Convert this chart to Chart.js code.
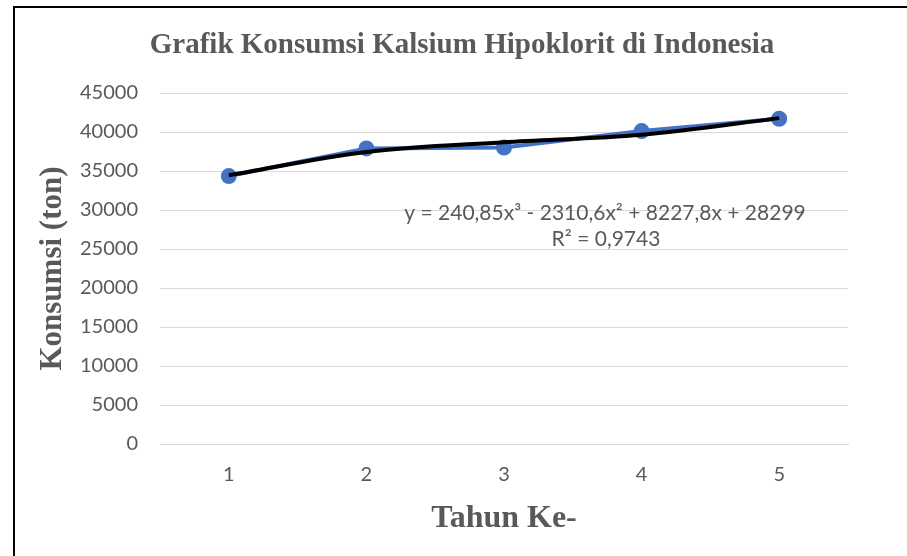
<!DOCTYPE html>
<html>
<head>
<meta charset="utf-8">
<script src="https://cdn.jsdelivr.net/npm/chart.js@4"></script>
<style>
  html, body { margin: 0; padding: 0; background: #fff; overflow: hidden; }
  #wrap { position: relative; width: 907px; height: 556px; }
  #frame { position: absolute; left: 13px; top: 6px; width: 1000px; height: 700px;
           border: 2px solid #000; pointer-events: none; }
</style>
</head>
<body>
<div id="wrap">
  <canvas id="grafik" width="907" height="556"></canvas>
  <div id="frame"></div>
</div>
<script>
// data
var tahun = ["1", "2", "3", "4", "5"];
var konsumsi = [34350, 37900, 38000, 40120, 41700];
var trendline = [34457, 37439, 38690, 39655, 41779];
var yTicks = [0, 45000, 5000]; // min, max, step

var judul = "Grafik Konsumsi Kalsium Hipoklorit di Indonesia";
var persamaan = "y = 240,85x\u00B3 - 2310,6x\u00B2 + 8227,8x + 28299";
var rKuadrat = "R\u00B2 = 0,9743";

var abu = "#595959";

// judul dan persamaan trendline ditulis manual
var teksPlugin = {
    id: "teks",
    afterDraw: function(chart){
        var ctx = chart.ctx;
        ctx.save();
        ctx.fillStyle = abu;
        ctx.textAlign = "center";
        ctx.textBaseline = "middle";
        ctx.font = "bold 29px 'Liberation Serif'";
        ctx.fillText(judul, 462, 46);
        ctx.font = "21px Lato";
        ctx.fillText(persamaan, 605, 213);
        ctx.fillText(rKuadrat, 606, 239);
        ctx.restore();
    }
};

var ctx = document.getElementById("grafik");
var chart = new Chart(ctx, {
    type: "line",
    data: {
        labels: tahun,
        datasets: [{
            label: "Trendline",
            data: trendline,
            borderColor: "#000000",
            borderWidth: 4,
            pointRadius: 0,
            fill: false,
            cubicInterpolationMode: "monotone",
            order: 0
        }, {
            label: "Konsumsi",
            data: konsumsi,
            borderColor: "#4472C4",
            backgroundColor: "#4472C4",
            borderWidth: 4,
            pointRadius: 7,
            pointBorderWidth: 2,
            fill: false,
            tension: 0,
            order: 1
        }]
    },
    options: {
        responsive: false,
        animation: false,
        layout: { padding: { left: 0, right: 59, top: 93, bottom: 0 } },
        plugins: {
            legend: { display: false },
            tooltip: { enabled: false },
            title: { display: false }
        },
        scales: {
            x: {
                offset: true,
                grid: { display: false, drawTicks: false },
                border: { display: true, color: "#d9d9d9", width: 1 },
                ticks: { color: abu, font: { family: "Lato", size: 20 }, padding: 19 },
                title: {
                    display: true,
                    text: "Tahun Ke-",
                    color: abu,
                    font: { family: "'Liberation Serif'", size: 32, weight: "bold" },
                    padding: { top: 0, bottom: 18 }
                },
                afterFit: function(scale){ scale.height = 112; }
            },
            y: {
                min: yTicks[0],
                max: yTicks[1],
                grid: { color: "#d9d9d9", lineWidth: 1, drawTicks: false },
                border: { display: false },
                ticks: {
                    stepSize: yTicks[2],
                    color: abu,
                    font: { family: "Lato", size: 20 },
                    padding: 22,
                    callback: function(v){ return String(v); }
                },
                title: {
                    display: true,
                    text: "Konsumsi (ton)",
                    color: abu,
                    font: { family: "'Liberation Serif'", size: 31, weight: "bold" },
                    padding: { top: 34, bottom: 0 }
                },
                afterFit: function(scale){ scale.width = 160; }
            }
        }
    },
    plugins: [teksPlugin]
});
</script>
</body>
</html>
